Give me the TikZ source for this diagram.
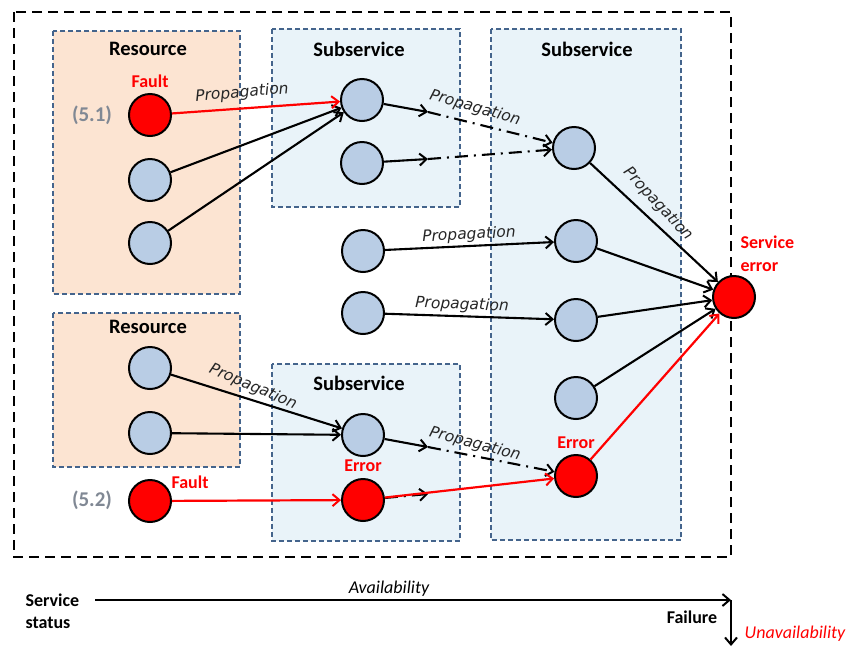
\documentclass[tikz,border=0pt]{standalone}
\usepackage{fontspec}
\setmainfont{Carlito}
\newfontfamily\propfont{DejaVu Sans}
\usetikzlibrary{arrows.meta}
\definecolor{resfill}{RGB}{252,228,210}
\definecolor{subfill}{RGB}{233,243,249}
\definecolor{boxline}{RGB}{68,100,140}
\definecolor{nodefill}{RGB}{185,205,229}
\definecolor{faultred}{RGB}{255,0,0}
\definecolor{tagGray}{RGB}{128,136,148}
\tikzset{
  tip/.style={-{Straight Barb[length=7pt,width=12pt,line width=2pt]}},
  link/.style={tip,line width=2.1pt,black},
  redlink/.style={tip,line width=2.2pt,faultred},
  dashdotlink/.style={tip,line width=2.1pt,black,dash pattern=on 13pt off 6pt on 2pt off 6pt},
  state/.style={circle,draw=black,line width=2pt,fill=nodefill,minimum size=42pt,inner sep=0pt},
  failstate/.style={state,fill=faultred},
  resbox/.style={draw=boxline,fill=resfill,line width=1.6pt,dash pattern=on 5pt off 3pt},
  subbox/.style={draw=boxline,fill=subfill,line width=1.6pt,dash pattern=on 5pt off 3pt},
  boxtitle/.style={font=\fontsize{20.5}{24}\selectfont\bfseries},
  redtag/.style={font=\fontsize{18}{21}\selectfont\bfseries,text=faultred},
  numtag/.style={font=\fontsize{21}{24}\selectfont\bfseries,text=tagGray},
  prop/.style={font=\propfont\itshape\fontsize{15.5}{18}\selectfont,text=black!85,inner sep=1pt},
}
\begin{document}
\begin{tikzpicture}[x=1pt,y=-1pt]
\useasboundingbox (0,0) rectangle (848,646);

% outer system boundary
\draw[line width=2.2pt,dash pattern=on 10pt off 6pt] (14,12) rectangle (731,557);

% resource and subservice containers
\draw[resbox] (53,31) rectangle (240,294);
\draw[resbox] (53,313) rectangle (240,467);
\draw[subbox] (272,29) rectangle (460,207);
\draw[subbox] (491,29) rectangle (681,540);
\draw[subbox] (272,364) rectangle (460,541);

\node[boxtitle] (tres1) at (148,49) {Resource};
\node[boxtitle] (tres2) at (148,327) {Resource};
\node[boxtitle] (tsub1) at (359,49) {Subservice};
\node[boxtitle] (tsub2) at (587,49) {Subservice};
\node[boxtitle] (tsub3) at (359,383) {Subservice};

% states
\node[failstate] (f1) at (150,115) {};
\node[state] (r1b) at (150,180) {};
\node[state] (r1c) at (150,243) {};
\node[state] (r2a) at (150,368) {};
\node[state] (r2b) at (150,433) {};
\node[failstate] (f2) at (150,501) {};

\node[state] (s1a) at (362,100) {};
\node[state] (s1b) at (362,163) {};
\node[state] (ma) at (363,251) {};
\node[state] (mb) at (363,313) {};
\node[state] (s3a) at (363,435) {};
\node[failstate] (s3e) at (363,500) {};

\node[state] (s2a) at (574,148) {};
\node[state] (s2b) at (576,241) {};
\node[state] (s2c) at (576,320) {};
\node[state] (s2d) at (576,398) {};
\node[failstate] (s2e) at (576,476) {};

\node[failstate] (se) at (734,297) {};

% state tags
\node[redtag] (lf1) at (150,81) {Fault};
\node[redtag] (lf2) at (190,482) {Fault};
\node[redtag] (le3) at (363,466) {Error};
\node[redtag] (le2) at (576,443) {Error};
\node[redtag,align=left,anchor=west,font=\fontsize{18}{23}\selectfont\bfseries] (lse) at (737,254) {Service\\error};
\node[numtag] (n1) at (92,115) {(5.1)};
\node[numtag] (n2) at (92,500) {(5.2)};

% propagation paths
\coordinate (k1) at (428,112);
\coordinate (k2) at (428,159);
\coordinate (k3) at (428,447);
\coordinate (k4) at (428,494);

\draw[link] (r1b) -- (s1a);
\draw[link] (r1c) -- (s1a);
\draw[redlink] (f1) -- (s1a);

\draw[link] (s1a) -- (k1);
\draw[dashdotlink] (k1) -- (s2a);
\draw[link] (s1b) -- (k2);
\draw[dashdotlink] (k2) -- (s2a);

\draw[link] (ma) -- (s2b);
\draw[link] (mb) -- (s2c);

\draw[link] (r2a) -- (s3a);
\draw[link] (r2b) -- (s3a);
\draw[link] (s3a) -- (k3);
\draw[dashdotlink] (k3) -- (s2e);

\draw[redlink] (f2) -- (s3e);
\draw[dashdotlink] (s3e) -- (k4);
\draw[redlink] (s3e) -- (s2e);

\draw[link] (s2a) -- (se);
\draw[link] (s2b) -- (se);
\draw[link] (s2c) -- (se);
\draw[link] (s2d) -- (se);
\draw[redlink] (s2e) -- (se);

% propagation labels
\node[prop,rotate=5] (p1) at (242,93) {Propagation};
\node[prop,rotate=-16] (p2) at (475,108) {Propagation};
\node[prop,rotate=-47] (p3) at (658,204) {Propagation};
\node[prop,rotate=3] (p4) at (469,235) {Propagation};
\node[prop,rotate=-2] (p5) at (462,305) {Propagation};
\node[prop,rotate=-23] (p6) at (253,387) {Propagation};
\node[prop,rotate=-15] (p7) at (475,444) {Propagation};

% service status timeline
\node[font=\fontsize{18}{22}\selectfont\bfseries,align=left,anchor=west] (status) at (22,611) {Service\\status};
\coordinate (start) at (95,600);
\coordinate (turn) at (731,600);
\coordinate (down) at (731,646);
\draw[link] (start) -- (turn);
\draw[link] (turn) -- (down);
\node[font=\fontsize{18}{21}\selectfont\itshape] (avail) at (389,589) {Availability};
\node[font=\fontsize{18}{21}\selectfont\bfseries] (fail) at (692,617) {Failure};
\node[font=\fontsize{18}{21}\selectfont\itshape,text=faultred] (unav) at (795,634) {Unavailability};
\end{tikzpicture}
\end{document}
